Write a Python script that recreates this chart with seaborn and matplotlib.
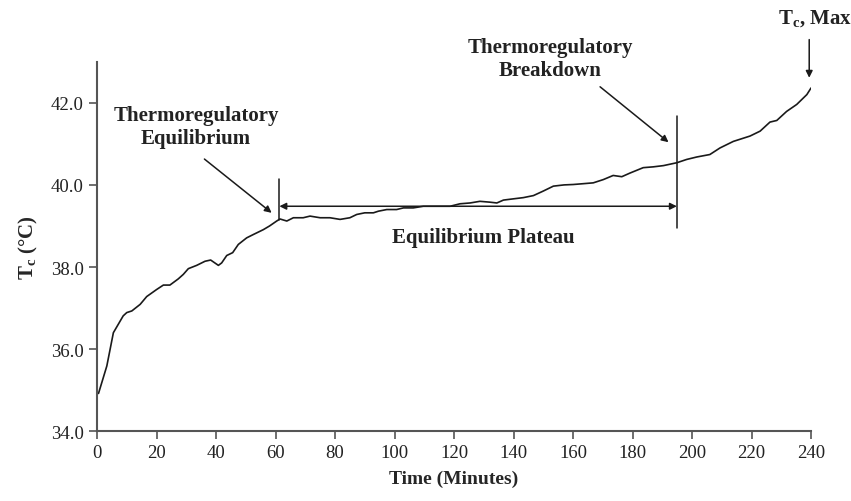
import matplotlib
matplotlib.use("Agg")
import matplotlib.pyplot as plt
import seaborn as sns
import pandas as pd

# Core temperature readings
time_min = [0.5, 3.3, 5.5, 8.8, 10, 11.7, 14.5, 16.7, 20, 22.3, 24.5, 27.3, 29, 30.7,
            33.5, 36.3, 38.2, 40.8, 41.9, 43.6, 45.6, 47.5, 50.3, 52.5, 55.9, 58, 60.4,
            61.5, 63.8, 66, 69.3, 71.6, 75, 78.3, 81.7, 85, 87.3, 90, 92.9, 94.6, 97.4,
            100.7, 103, 106.3, 109.7, 114.2, 118.7, 122, 125.4, 128.7, 132, 134.4, 136.6,
            139.9, 143.3, 146.7, 150, 153.4, 157, 160.1, 163.5, 166.8, 170.2, 173.5, 176.4,
            179.2, 183.6, 187, 190.4, 194.9, 198.2, 201.6, 206, 209.4, 213.9, 219.5, 222.9,
            226.2, 228.5, 231.8, 235.2, 238.6, 240]
core_temp = [34.92, 35.59, 36.40, 36.81, 36.89, 36.93, 37.09, 37.28, 37.45, 37.56, 37.56,
             37.71, 37.82, 37.96, 38.04, 38.14, 38.17, 38.04, 38.10, 38.28, 38.35, 38.55,
             38.71, 38.79, 38.91, 39.00, 39.12, 39.17, 39.12, 39.20, 39.20, 39.24, 39.20,
             39.20, 39.16, 39.20, 39.28, 39.32, 39.32, 39.36, 39.40, 39.40, 39.44, 39.44,
             39.48, 39.48, 39.48, 39.54, 39.56, 39.60, 39.58, 39.56, 39.63, 39.66, 39.69,
             39.74, 39.85, 39.97, 40.00, 40.01, 40.03, 40.05, 40.13, 40.23, 40.20, 40.29,
             40.42, 40.44, 40.47, 40.54, 40.62, 40.68, 40.74, 40.90, 41.06, 41.19, 41.31,
             41.53, 41.57, 41.79, 41.96, 42.20, 42.36]

x_ticks = list(range(0, 241, 20))
y_ticks = [34.0, 36.0, 38.0, 40.0, 42.0]

# phase markers
equilibrium_t = 61.3
breakdown_t = 194.9

df = pd.DataFrame({"time": time_min, "tc": core_temp})

sns.set_theme(style="ticks")
plt.rcParams["font.family"] = ["Liberation Serif", "DejaVu Serif"]
plt.rcParams["mathtext.fontset"] = "custom"
plt.rcParams["mathtext.rm"] = "Liberation Serif"
plt.rcParams["mathtext.bf"] = "Liberation Serif:bold"

fig = plt.figure(figsize=(8.51, 5.02), dpi=100)
ax = fig.add_axes([0.114, 0.139, 0.839, 0.736])

sns.lineplot(data=df, x="time", y="tc", color="#1a1a1a", linewidth=1.2, ax=ax)

ax.set_xlim(0, 240)
ax.set_ylim(34, 43)
ax.set_xticks(x_ticks)
ax.set_yticks(y_ticks)
ax.set_yticklabels([f"{v:.1f}" for v in y_ticks])
ax.tick_params(axis="both", labelsize=13.5, length=6, width=1.2, color="#555555",
               labelcolor="#222222", direction="out")
for side in ["top", "right"]:
    ax.spines[side].set_visible(False)
for side in ["left", "bottom"]:
    ax.spines[side].set_color("#555555")
    ax.spines[side].set_linewidth(1.5)

ax.set_xlabel("Time (Minutes)", fontsize=14, fontweight="bold", labelpad=6)
ax.set_ylabel(r"$\mathbf{T_c}$ (°C)", fontsize=15, fontweight="bold", labelpad=8)

bold = dict(fontsize=15, fontweight="bold", ha="center", va="center", color="#222222")
lw = 1.1

# vertical phase lines
ax.plot([equilibrium_t, equilibrium_t], [39.14, 40.15], color="#1a1a1a", lw=lw)
ax.plot([breakdown_t, breakdown_t], [38.96, 41.67], color="#1a1a1a", lw=lw)

# plateau double arrow
ax.annotate("", xy=(equilibrium_t, 39.48), xytext=(breakdown_t, 39.48),
            arrowprops=dict(arrowstyle="<|-|>", color="#1a1a1a", lw=lw,
                            mutation_scale=10, shrinkA=0, shrinkB=0))
ax.text(130, 38.74, "Equilibrium Plateau", **bold)

# equilibrium label
ax.annotate("", xy=(58.7, 39.32), xytext=(36.1, 40.63),
            arrowprops=dict(arrowstyle="-|>", color="#1a1a1a", lw=lw,
                            mutation_scale=10, shrinkA=0, shrinkB=0))
ax.text(33.3, 41.42, "Thermoregulatory\nEquilibrium", linespacing=1.15, **bold)

# breakdown label
ax.annotate("", xy=(192.1, 41.04), xytext=(169.1, 42.39),
            arrowprops=dict(arrowstyle="-|>", color="#1a1a1a", lw=lw,
                            mutation_scale=10, shrinkA=0, shrinkB=0))
ax.text(152.3, 43.08, "Thermoregulatory\nBreakdown", linespacing=1.15, **bold)

# max label
ax.annotate("", xy=(239.4, 42.61), xytext=(239.4, 43.54), annotation_clip=False,
            arrowprops=dict(arrowstyle="-|>", color="#1a1a1a", lw=lw,
                            mutation_scale=10, shrinkA=0, shrinkB=0))
ax.text(241.3, 44.07, r"$\mathbf{T_c}$, Max", clip_on=False, **bold)

fig.savefig("out.png", dpi=100)
